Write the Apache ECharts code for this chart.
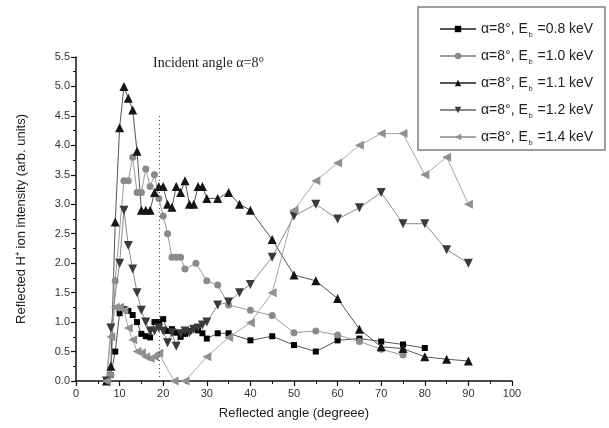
<!DOCTYPE html>
<html>
<head>
<meta charset="utf-8">
<script src="https://cdn.jsdelivr.net/npm/echarts@6/dist/echarts.min.js"></script>
<style>
html,body{margin:0;padding:0;background:#fff;}
#chart{width:609px;height:428px;}
</style>
</head>
<body>
<div id="chart"></div>
<script>
// reflected angle (deg) / intensity, one pair of arrays per beam energy
var ang08 = [7, 8, 9, 10, 11, 12, 13, 14, 15, 16, 17, 18, 19, 20, 21, 22, 23, 24, 25, 26, 27, 28, 29, 30, 32.5, 35, 40, 45, 50, 55, 60, 65, 70, 75, 80];
var val08 = [0, 0.1, 0.5, 1.15, 1.22, 1.19, 1.12, 1.0, 0.8, 0.76, 0.74, 1.0, 1.0, 1.05, 0.85, 0.88, 0.82, 0.75, 0.8, 0.85, 0.89, 0.86, 0.81, 0.72, 0.81, 0.81, 0.69, 0.76, 0.61, 0.5, 0.69, 0.72, 0.67, 0.62, 0.56];

var ang10 = [7, 8, 9, 11, 12, 13, 14, 15, 16, 17, 18, 19, 20, 21, 22, 23, 24, 25, 27.5, 30, 32.5, 35, 40, 45, 50, 55, 60, 65, 70, 75];
var val10 = [0, 0.1, 1.7, 3.4, 3.4, 3.8, 3.2, 3.2, 3.6, 3.3, 3.5, 3.1, 2.8, 2.5, 2.1, 2.1, 2.1, 1.9, 2.0, 1.7, 1.63, 1.29, 1.2, 1.11, 0.82, 0.85, 0.78, 0.67, 0.54, 0.44];

var ang11 = [7, 8, 9, 10, 11, 12, 13, 14, 15, 16, 17, 18, 19, 20, 21, 22, 23, 24, 25, 26, 27, 28, 29, 30, 32.5, 35, 37.5, 40, 45, 50, 55, 60, 65, 70, 75, 80, 85, 90];
var val11 = [0, 0.25, 2.7, 4.3, 5.0, 4.8, 4.6, 3.9, 2.9, 2.9, 2.9, 3.2, 3.3, 3.3, 3.0, 2.95, 3.3, 3.2, 3.4, 3.0, 3.0, 3.3, 3.3, 3.1, 3.1, 3.2, 3.0, 2.9, 2.4, 1.8, 1.7, 1.4, 0.88, 0.58, 0.55, 0.41, 0.37, 0.34];

var ang12 = [7, 8, 10, 11, 12, 13, 14, 15, 16, 17, 18, 19, 20, 21, 22, 23, 24, 25, 26, 27, 28, 29, 30, 32.5, 35, 37.5, 40, 45, 50, 55, 60, 65, 70, 75, 80, 85, 90];
var val12 = [0, 0.9, 2.0, 2.9, 2.3, 1.9, 1.5, 1.2, 1.0, 0.85, 0.85, 0.9, 0.85, 0.65, 0.82, 0.59, 0.8, 0.85, 0.82, 0.88, 0.9, 0.95, 1.0, 1.29, 1.34, 1.5, 1.64, 2.1, 2.8, 3.0, 2.75, 2.94, 3.2, 2.67, 2.67, 2.23, 2.0];

var ang14 = [7, 8, 9, 10, 11, 12, 13, 14, 15, 16, 17, 18, 19, 22.5, 25, 30, 35, 40, 45, 50, 55, 60, 65, 70, 75, 80, 85, 90];
var val14 = [0, 0.75, 1.25, 1.25, 1.2, 0.9, 0.7, 0.5, 0.48, 0.41, 0.38, 0.41, 0.47, 0, 0, 0.41, 0.74, 0.99, 1.5, 2.9, 3.4, 3.7, 4.0, 4.2, 4.2, 3.5, 3.8, 3.0];

var energies = ['0.8', '1.0', '1.1', '1.2', '1.4'];
var incidentMark = [19, 4.5];

function pairs(xs, ys) {
    var res = [];
    for (var i = 0; i < xs.length; i++) {
        res.push([xs[i], ys[i]]);
    }
    return res;
}

function lineSeries(name, xs, ys, symbol, rot, size, markColor, lineColor) {
    return {
        name: name,
        type: 'line',
        data: pairs(xs, ys),
        symbol: symbol,
        symbolRotate: rot,
        symbolSize: size,
        showAllSymbol: true,
        itemStyle: {color: markColor, borderWidth: 0},
        lineStyle: {color: lineColor, width: 1},
        emphasis: {disabled: true},
        animation: false,
        z: 3
    };
}

var myChart = echarts.init(document.getElementById('chart'), null, {renderer: 'canvas'});

var option = {
    backgroundColor: '#fff',
    animation: false,
    title: {
        text: 'Incident angle α=8°',
        left: 148,
        top: 51,
        textStyle: {
            fontFamily: 'Liberation Serif',
            fontWeight: 'normal',
            fontSize: 14,
            color: '#222'
        }
    },
    grid: {left: 76, right: 97, top: 57, bottom: 47},
    legend: {
        data: energies,
        orient: 'vertical',
        left: 434,
        top: 17,
        itemWidth: 36,
        itemHeight: 8,
        itemGap: 10.5,
        selectedMode: false,
        formatter: function (name) {
            return 'α=8°, E{s|b} =' + name + ' keV';
        },
        textStyle: {
            fontFamily: 'Liberation Sans',
            fontSize: 14,
            color: '#222',
            rich: {
                s: {fontSize: 7, fontFamily: 'Liberation Sans', color: '#222', padding: [12, 1, 0, 1]}
            }
        }
    },
    graphic: [{
        type: 'rect',
        shape: {x: 418, y: 7, width: 187, height: 143},
        style: {fill: 'none', stroke: '#808080', lineWidth: 1.5},
        z: 1
    }],
    xAxis: {
        type: 'value',
        min: 0,
        max: 100,
        interval: 10,
        name: 'Reflected angle (degreee)',
        nameLocation: 'middle',
        nameGap: 26,
        nameTextStyle: {fontFamily: 'Liberation Sans', fontSize: 13, color: '#222'},
        axisLine: {lineStyle: {color: '#111', width: 1.5}},
        axisTick: {inside: false, length: 5, lineStyle: {color: '#111', width: 1.2}},
        minorTick: {show: true, splitNumber: 2, length: 3, lineStyle: {color: '#111'}},
        splitLine: {show: false},
        axisLabel: {fontFamily: 'Liberation Sans', fontSize: 11, color: '#333', margin: 7}
    },
    yAxis: {
        type: 'value',
        min: 0,
        max: 5.5,
        interval: 0.5,
        name: 'Reflected H⁺ ion intensity (arb. units)',
        nameLocation: 'middle',
        nameGap: 48,
        nameTextStyle: {fontFamily: 'Liberation Sans', fontSize: 13, color: '#222'},
        axisLine: {lineStyle: {color: '#111', width: 1.5}},
        axisTick: {inside: false, length: 5, lineStyle: {color: '#111', width: 1.2}},
        minorTick: {show: true, splitNumber: 2, length: 3, lineStyle: {color: '#111'}},
        splitLine: {show: false},
        axisLabel: {
            fontFamily: 'Liberation Sans', fontSize: 11, color: '#333', margin: 6,
            formatter: function (v) { return v.toFixed(1); }
        }
    },
    series: [
        lineSeries('0.8', ang08, val08, 'rect', 0, 6, '#000', '#555'),
        lineSeries('1.0', ang10, val10, 'circle', 0, 7, '#8a8a8a', '#9a9a9a'),
        lineSeries('1.1', ang11, val11, 'triangle', 0, 9, '#151515', '#555'),
        lineSeries('1.2', ang12, val12, 'triangle', 180, 9, '#3a3a3a', '#8a8a8a'),
        lineSeries('1.4', ang14, val14, 'triangle', 90, 9, '#909090', '#a8a8a8'),
        {
            name: 'incident',
            type: 'line',
            data: [],
            silent: true,
            markLine: {
                symbol: 'none',
                silent: true,
                label: {show: false},
                lineStyle: {color: '#444', type: [1, 3], width: 1},
                data: [[{coord: [incidentMark[0], 0]}, {coord: [incidentMark[0], incidentMark[1]]}]]
            }
        }
    ]
};

myChart.setOption(option);
</script>
</body>
</html>
